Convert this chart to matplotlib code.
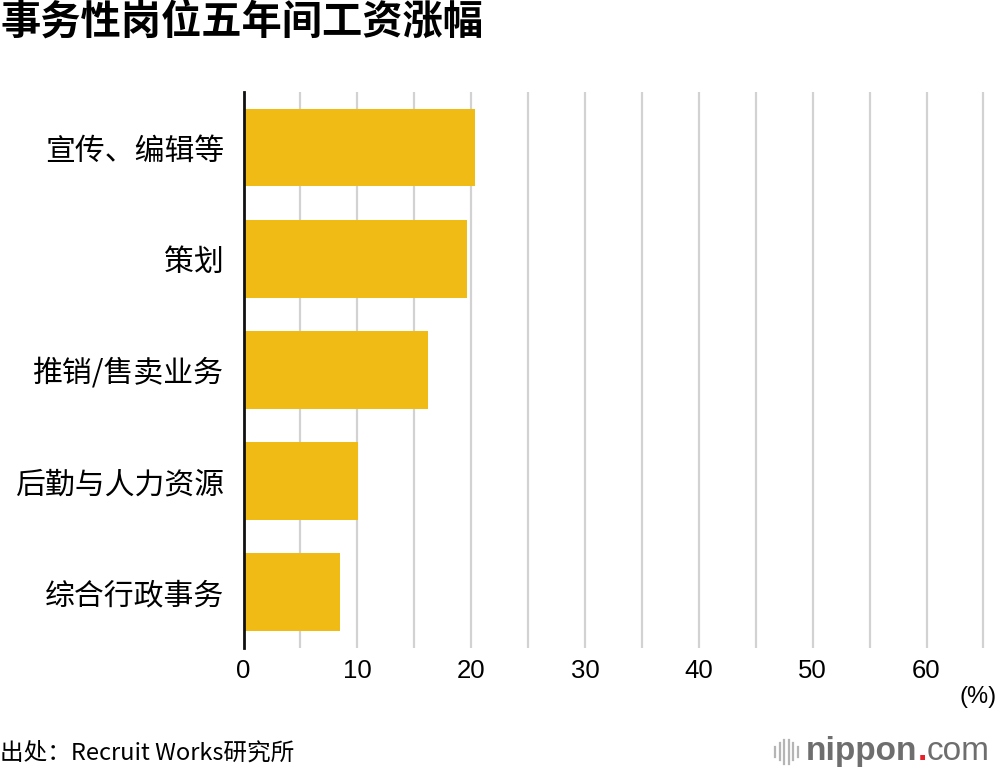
import matplotlib.pyplot as plt
from matplotlib.lines import Line2D

plt.rcParams['font.family'] = ['Noto Sans CJK SC', 'DejaVu Sans']

categories = ['宣传、编辑等', '策划', '推销/售卖业务', '后勤与人力资源', '综合行政事务']
values = [20.3, 19.6, 16.2, 10.1, 8.5]
xticks = [0, 10, 20, 30, 40, 50, 60]

fig = plt.figure(figsize=(10, 7.76), dpi=100)
ax = fig.add_axes([0.2435, 0.165, 0.7445, 0.7165])

ypos = list(range(len(categories)))
ax.barh(ypos, values, height=0.7, color='#F1BB15', zorder=2)
ax.set_ylim(len(categories) - 0.5, -0.5)
ax.set_xlim(0, 65.4)

# grid every 5, labels every 10
for g in range(5, 66, 5):
    ax.axvline(g, color='#d2d2d2', lw=1.6, zorder=1)

ax.set_xticks(xticks)
ax.set_xticklabels([str(t) for t in xticks], fontsize=18.5, family='Liberation Sans')
ax.set_yticks(ypos)
ax.set_yticklabels(categories, fontsize=21.5, fontweight='medium')
ax.tick_params(axis='both', length=0)
ax.tick_params(axis='x', pad=8)
ax.tick_params(axis='y', pad=14)

for s in ['top', 'right', 'bottom']:
    ax.spines[s].set_visible(False)
ax.spines['left'].set_linewidth(2)
ax.spines['left'].set_color('#111111')
ax.spines['left'].set_zorder(3)

fig.text(0.0, 0.972, '事务性岗位五年间工资涨幅', fontsize=29, fontweight='bold',
         ha='left', va='center')
fig.text(0.997, 0.102, '(%)', fontsize=17, family='Liberation Sans', ha='right', va='center')
fig.text(0.0, 0.029, '出处：Recruit Works研究所', fontsize=17, fontweight='medium',
         ha='left', va='center')

# nippon.com logo
for i, h in enumerate([0.014, 0.022, 0.030, 0.030, 0.022, 0.014]):
    x = 0.775 + i * 0.0045
    fig.add_artist(Line2D([x, x], [0.031 - h / 2, 0.031 + h / 2], color='#b5b5b5', lw=1.6))

fig.canvas.draw()
r = fig.canvas.get_renderer()
x = 0.806
for txt, col, wt in [('nippon', '#6e6e6e', 'bold'), ('.', '#e8202a', 'bold'), ('com', '#6e6e6e', 'normal')]:
    t = fig.text(x, 0.031, txt, fontsize=24, fontweight=wt, color=col,
                 family='Liberation Sans', ha='left', va='center')
    bb = t.get_window_extent(renderer=r)
    x = bb.x1 / fig.bbox.width

fig.savefig('out.png', dpi=100)
